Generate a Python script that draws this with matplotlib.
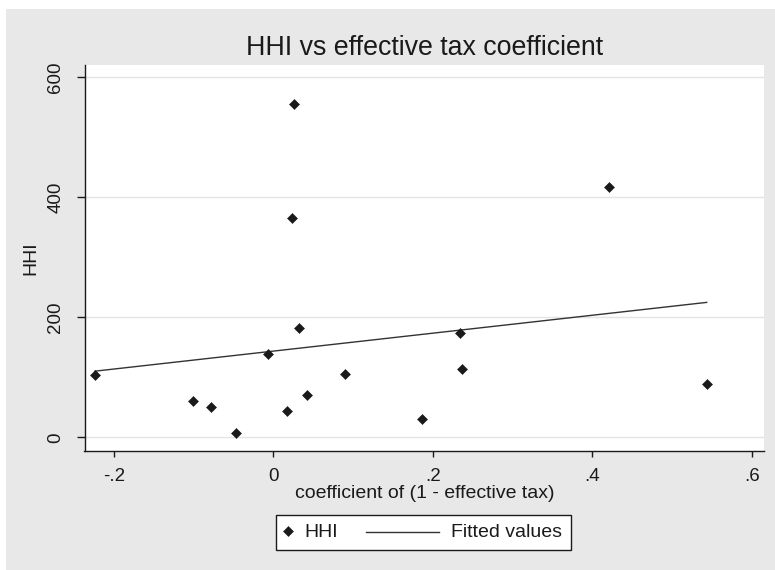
import numpy as np
import matplotlib
matplotlib.use("Agg")
import matplotlib.pyplot as plt
from matplotlib.patches import Rectangle
from matplotlib.lines import Line2D
from matplotlib.offsetbox import AnchoredOffsetbox, DrawingArea, TextArea, HPacker

# values
tax_coef = [-0.2236, -0.1003, -0.0777, -0.0464, -0.0063, 0.0172, 0.0238, 0.0260,
            0.0318, 0.0419, 0.0895, 0.1865, 0.2341, 0.2362, 0.4213, 0.5435]
hhi = [103.5, 60.3, 51.4, 7.9, 138.5, 44.0, 365.7, 555.0,
       181.6, 71.0, 105.0, 30.7, 174.5, 113.5, 417.8, 89.0]

xticks = [-0.2, 0, 0.2, 0.4, 0.6]
xticklabels = ["-.2", "0", ".2", ".4", ".6"]
yticks = [0, 200, 400, 600]

plt.rcParams["font.family"] = ["Liberation Sans", "DejaVu Sans"]

BG = "#e8e8e8"
INK = "#1a1a1a"

fig = plt.figure(figsize=(7.75, 5.7), dpi=100, facecolor="white")
# Stata-style grey graph region (white strip on top/left as in the reference)
fig.add_artist(Rectangle((6 / 775, 0), 1, 1 - 9 / 570, transform=fig.transFigure,
                         facecolor=BG, edgecolor="none", zorder=-10))

ax = fig.add_axes([84.5 / 775, 1 - 450.7 / 570, (764.3 - 84.5) / 775, (450.7 - 65) / 570])
ax.set_facecolor("white")

x = np.array(tax_coef)
y = np.array(hhi)

# fitted values (OLS)
slope, icpt = np.polyfit(x, y, 1)
xf = np.array([x.min(), x.max()])
ax.plot(xf, icpt + slope * xf, color="#333333", lw=1.0, zorder=2)

ax.plot(x, y, linestyle="none", marker="D", ms=5, color=INK, mec=INK, mew=0.4, zorder=3)

ax.set_xlim(-0.2367, 0.6157)
ax.set_ylim(-22.2, 620.7)

ax.set_xticks(xticks)
ax.set_xticklabels(xticklabels)
ax.set_yticks(yticks)
ax.set_yticklabels([str(v) for v in yticks], rotation=90, va="center")

ax.grid(axis="y", color="#e4e4e4", lw=1.0)
ax.set_axisbelow(True)

for s in ["top", "right"]:
    ax.spines[s].set_visible(False)
for s in ["left", "bottom"]:
    ax.spines[s].set_linewidth(1.0)
    ax.spines[s].set_color(INK)

ax.tick_params(axis="x", length=4.5, width=1.0, pad=8, labelsize=13.5, colors=INK)
ax.tick_params(axis="y", length=5.5, width=1.0, pad=9, labelsize=13.5, colors=INK)

ax.set_title("HHI vs effective tax coefficient", fontsize=19.3, pad=7, color=INK)
ax.set_xlabel("coefficient of (1 - effective tax)", fontsize=14, labelpad=0, color=INK)
ax.set_ylabel("HHI", fontsize=14, labelpad=6, color=INK)

# legend box below the plot, built like Stata's (small marker, long line key)
mk_area = DrawingArea(4, 10, 0, 0)
mk_area.add_artist(Line2D([2], [6], linestyle="none", marker="D", ms=5, color=INK, mew=0.4))
ln_area = DrawingArea(53, 10, 0, 0)
ln_area.add_artist(Line2D([0, 53], [5.5, 5.5], color="#333333", lw=1.0))
t1 = TextArea("HHI", textprops=dict(fontsize=14, color=INK))
t2 = TextArea("Fitted values", textprops=dict(fontsize=14, color=INK))
entries = HPacker(children=[HPacker(children=[mk_area, t1], sep=10, align="center"),
                            HPacker(children=[ln_area, t2], sep=8.6, align="center")],
                  sep=20, align="center")
leg = AnchoredOffsetbox(loc="center", child=entries, pad=0.65, borderpad=0, frameon=True,
                        prop=dict(size=10),
                        bbox_to_anchor=(423.5 / 775, 1 - 532.5 / 570),
                        bbox_transform=fig.transFigure)
leg.patch.set_boxstyle("square", pad=0)
leg.patch.set_edgecolor(INK)
leg.patch.set_facecolor("white")
leg.patch.set_linewidth(1.0)
fig.add_artist(leg)

fig.savefig("out.png", dpi=100, facecolor=fig.get_facecolor())
